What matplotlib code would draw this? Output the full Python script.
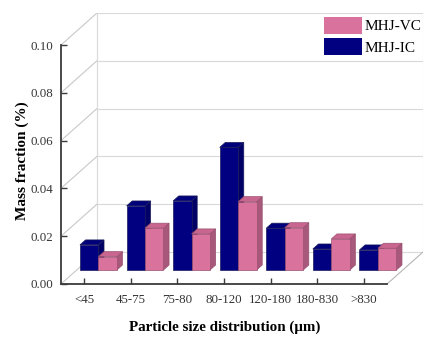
import matplotlib
matplotlib.use("Agg")
import matplotlib.pyplot as plt
from matplotlib.patches import Patch

categories = ["<45", "45-75", "75-80", "80-120", "120-180", "180-830", ">830"]
mhj_ic = [0.0105, 0.0268, 0.0289, 0.0513, 0.0175, 0.0088, 0.0084]
mhj_vc = [0.0056, 0.0175, 0.0151, 0.0286, 0.0177, 0.0130, 0.0091]
yticks = [0.00, 0.02, 0.04, 0.06, 0.08, 0.10]

plt.rcParams['font.family'] = ['Liberation Serif', 'DejaVu Serif']

W, H = 433, 338
fig = plt.figure(figsize=(W / 100, H / 100), dpi=100)
ax = fig.add_axes([61 / W, 54 / H, 362 / W, 271 / H])

DX, DY = 0.771, 0.01339   # depth vector (full depth)
ymax = 0.10
ncat = len(categories)
ax.set_xlim(0, ncat + DX)
ax.set_ylim(0, ymax + DY)


def P(x, y, z):
    return (x + z * DX, y + z * DY)


grid_c = "#d9d9d9"
for v in yticks:
    a, b = P(0, v, 1), P(ncat, v, 1)
    ax.plot([a[0], b[0]], [a[1], b[1]], color=grid_c, lw=0.8, zorder=1)
    a, b = P(0, v, 0), P(0, v, 1)
    ax.plot([a[0], b[0]], [a[1], b[1]], color="#c8c8c8", lw=0.8, zorder=1)
for xx in (0, ncat):
    a, b = P(xx, 0, 1), P(xx, ymax, 1)
    ax.plot([a[0], b[0]], [a[1], b[1]], color=grid_c, lw=0.8, zorder=1)
a, b = P(ncat, 0, 0), P(ncat, 0, 1)
ax.plot([a[0], b[0]], [a[1], b[1]], color="#b5b5b5", lw=0.8, zorder=1)

z0, z1 = 0.4375, 0.4375 + 0.156
bw = 0.396
off = 0.07
styles = {
    "ic": dict(front="#000080", top="#00007a", side="#000066", edge="#1c1c5c"),
    "vc": dict(front="#d9729c", top="#c9668f", side="#a8587b", edge="#9a5070"),
}


def bar3d(x0, x1, v, st):
    front = [P(x0, 0, z0), P(x1, 0, z0), P(x1, v, z0), P(x0, v, z0)]
    top = [P(x0, v, z0), P(x1, v, z0), P(x1, v, z1), P(x0, v, z1)]
    side = [P(x1, 0, z0), P(x1, 0, z1), P(x1, v, z1), P(x1, v, z0)]
    for poly, c in ((side, st["side"]), (top, st["top"]), (front, st["front"])):
        xs, ys = zip(*poly)
        ax.fill(xs, ys, facecolor=c, edgecolor=st["edge"], lw=0.5, zorder=3)


for i in range(ncat):
    x0 = i + off
    bar3d(x0, x0 + bw, mhj_ic[i], styles["ic"])
    bar3d(x0 + bw, x0 + 2 * bw, mhj_vc[i], styles["vc"])

for s in ("top", "right"):
    ax.spines[s].set_visible(False)
ax.spines["left"].set_bounds(0, ymax)
ax.spines["bottom"].set_bounds(0, ncat)
for s in ("left", "bottom"):
    ax.spines[s].set_color("#3a3a3a")
    ax.spines[s].set_linewidth(1.3)
    ax.spines[s].set_zorder(5)
ax.set_yticks(yticks)
ax.set_yticklabels([f"{t:.2f}" for t in yticks], fontsize=9.3)
ax.set_xticks([i + 0.5 for i in range(ncat)])
ax.set_xticklabels(categories, fontsize=9.3)
ax.tick_params(axis="both", direction="in", length=4.5, width=1.0, color="#3a3a3a",
               labelcolor="#333333")
ax.tick_params(axis="y", pad=5.5)
ax.tick_params(axis="x", pad=7.5)
ax.patch.set_alpha(0)

fig.text(22.5 / W, 1 - 161 / H, "Mass fraction (%)", rotation=90, ha="center", va="center",
         fontsize=11, fontweight="bold")
fig.text(225 / W, 1 - 327 / H, "Particle size distribution (\u03bcm)", ha="center",
         va="center", fontsize=10.8, fontweight="bold")

handles = [Patch(facecolor=styles["vc"]["front"], edgecolor="none", label="MHJ-VC"),
           Patch(facecolor=styles["ic"]["front"], edgecolor="none", label="MHJ-IC")]
fig.legend(handles=handles, loc="upper right", bbox_to_anchor=(421 / W, 1 - 17 / H),
           frameon=False, fontsize=11, handlelength=2.5, handleheight=1.3,
           handletextpad=0.12, labelspacing=0.3, borderaxespad=0, borderpad=0)

fig.savefig("out.png", dpi=100)
